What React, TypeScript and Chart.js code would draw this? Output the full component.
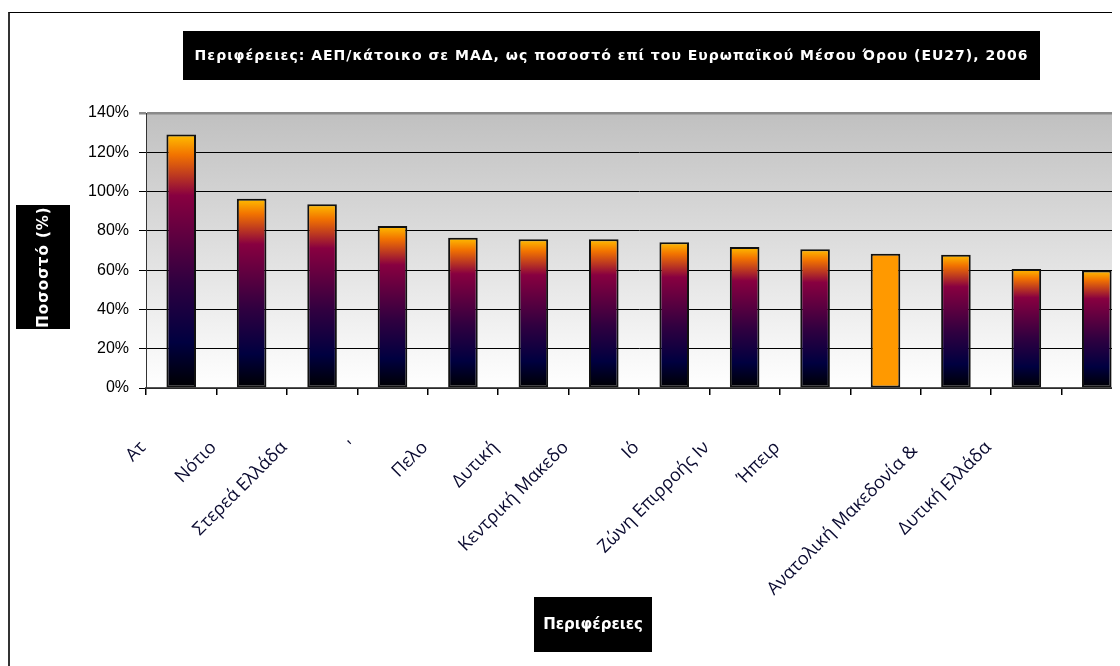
import { useEffect, useRef } from "react";
import { Chart, registerables } from "chart.js";

Chart.register(...registerables);

const categories = [
  "Ατ",
  "Νότιο",
  "Στερεά Ελλάδα",
  "'",
  "Πελο",
  "Δυτική",
  "Κεντρική Μακεδο",
  "Ιό",
  "Ζώνη Επιρροής Ιν",
  "Ήπειρ",
  "",
  "Ανατολική Μακεδονία & ",
  "Δυτική Ελλάδα",
  "",
];
const values = [129, 96.4, 93.6, 82.5, 76.5, 75.7, 75.7, 74.2, 71.8, 70.7, 68.3, 67.8, 60.6, 59.8];
const highlightedIndex = [10];
const yTickValues = [0, 20, 40, 60, 80, 100, 120, 140];

const chartTitle = "Περιφέρειες: ΑΕΠ/κάτοικο σε ΜΑΔ, ως ποσοστό επί του Ευρωπαϊκού Μέσου Όρου (EU27), 2006";
const yTitle = "Ποσοστό (%)";
const xTitle = "Περιφέρειες";

const CANVAS_W = 1190;
const CANVAS_H = 690;
const PLOT_LEFT = 136;
const PLOT_TOP = 100;
const PLOT_BOTTOM = 375;
const PLOT_RIGHT = 1122;

const sunsetStops: [number, string][] = [
  [0, "#000000"],
  [0.18, "#000040"],
  [0.42, "#300040"],
  [0.76, "#880040"],
  [0.92, "#f27300"],
  [1, "#ffbf00"],
];

function drawBox(
  ctx: CanvasRenderingContext2D,
  text: string,
  x0: number,
  y0: number,
  x1: number,
  y1: number,
  font: string,
  spacing: string,
  vertical: boolean
) {
  ctx.save();
  ctx.fillStyle = "#000";
  ctx.fillRect(x0, y0, x1 - x0, y1 - y0);
  ctx.fillStyle = "#fff";
  ctx.font = font;
  (ctx as any).letterSpacing = spacing;
  ctx.textAlign = "center";
  ctx.textBaseline = "middle";
  const cx = (x0 + x1) / 2;
  const cy = (y0 + y1) / 2;
  ctx.translate(cx, cy);
  if (vertical) ctx.rotate(-Math.PI / 2);
  ctx.fillText(text, 0, 1);
  ctx.restore();
}

const decorPlugin = {
  id: "decor",
  beforeDraw(chart: any) {
    const { ctx, chartArea: a } = chart;
    const g = ctx.createLinearGradient(0, a.top, 0, a.bottom);
    g.addColorStop(0, "#c0c0c0");
    g.addColorStop(1, "#ffffff");
    ctx.save();
    ctx.fillStyle = g;
    ctx.fillRect(a.left, a.top, a.right - a.left, a.bottom - a.top);
    ctx.restore();
  },
  afterDraw(chart: any) {
    const ctx = chart.ctx as CanvasRenderingContext2D;
    drawBox(ctx, chartTitle, 173, 18, 1030, 67, "bold 14px 'DejaVu Sans'", "1px", false);
    drawBox(ctx, yTitle, 6, 192, 60, 316, "bold 15px 'DejaVu Sans'", "1px", true);
    drawBox(ctx, xTitle, 524, 584, 642, 639, "bold 15px 'DejaVu Sans'", "0px", false);
  },
};

export default function App() {
  const ref = useRef<HTMLCanvasElement | null>(null);

  useEffect(() => {
    if (!ref.current) return;
    const chart = new Chart(ref.current, {
      type: "bar",
      data: {
        labels: categories,
        datasets: [
          {
            data: values,
            backgroundColor: (c: any) => {
              if (highlightedIndex.includes(c.dataIndex)) return "#ff9900";
              const ch = c.chart;
              const y = ch.scales && ch.scales.y;
              if (!y || !ch.chartArea || c.raw == null) return "#880040";
              const top = y.getPixelForValue(c.raw);
              const base = y.getPixelForValue(0);
              const g = ch.ctx.createLinearGradient(0, base, 0, top);
              sunsetStops.forEach(([o, col]) => g.addColorStop(o, col));
              return g;
            },
            borderColor: "#111",
            borderWidth: 2,
            borderSkipped: false,
            barPercentage: 0.42,
            categoryPercentage: 1,
          },
        ],
      },
      options: {
        responsive: false,
        animation: false,
        layout: {
          padding: { top: PLOT_TOP, left: 0, right: CANVAS_W - PLOT_RIGHT, bottom: 0 },
        },
        plugins: {
          legend: { display: false },
          title: { display: false },
          tooltip: { enabled: false },
        },
        scales: {
          x: {
            offset: true,
            afterFit: (s: any) => {
              s.height = CANVAS_H - PLOT_BOTTOM;
            },
            grid: {
              offset: true,
              drawOnChartArea: false,
              drawTicks: true,
              tickLength: 7,
              color: "#000",
              lineWidth: 1.5,
            },
            border: { display: true, color: "#555", width: 1.5 },
            ticks: {
              autoSkip: false,
              maxRotation: 45,
              minRotation: 45,
              padding: 42,
              labelOffset: -38,
              color: "#0a0a30",
              font: { family: "'Open Sans', 'Noto Sans', sans-serif", size: 18 },
            },
          },
          y: {
            min: 0,
            max: 140,
            afterFit: (s: any) => {
              s.width = PLOT_LEFT;
            },
            afterBuildTicks: (s: any) => {
              s.ticks = yTickValues.map((v) => ({ value: v }));
            },
            grid: {
              color: (c: any) => (c.tick && c.tick.value === 140 ? "#8a8a8a" : "#000"),
              lineWidth: (c: any) => (c.tick && c.tick.value === 140 ? 2.5 : 1),
              drawTicks: true,
              tickLength: 7,
            },
            border: { display: true, color: "#333", width: 1 },
            ticks: {
              padding: 10,
              color: "#000",
              font: { family: "'Liberation Sans', Arial, sans-serif", size: 16 },
              callback: (v: any) => v + "%",
            },
          },
        },
      },
      plugins: [decorPlugin],
    });
    return () => chart.destroy();
  }, []);

  return (
    <div style={{ width: 1112, height: 658, overflow: "hidden", paddingTop: 4, boxSizing: "border-box" }}>
      <div
        style={{
          borderLeft: "2px solid #333",
          borderTop: "1px solid #000",
          width: CANVAS_W,
          height: CANVAS_H,
          background: "#fff",
        }}
      >
        <canvas ref={ref} width={CANVAS_W} height={CANVAS_H} style={{ display: "block", width: CANVAS_W, height: CANVAS_H }} />
      </div>
    </div>
  );
}
